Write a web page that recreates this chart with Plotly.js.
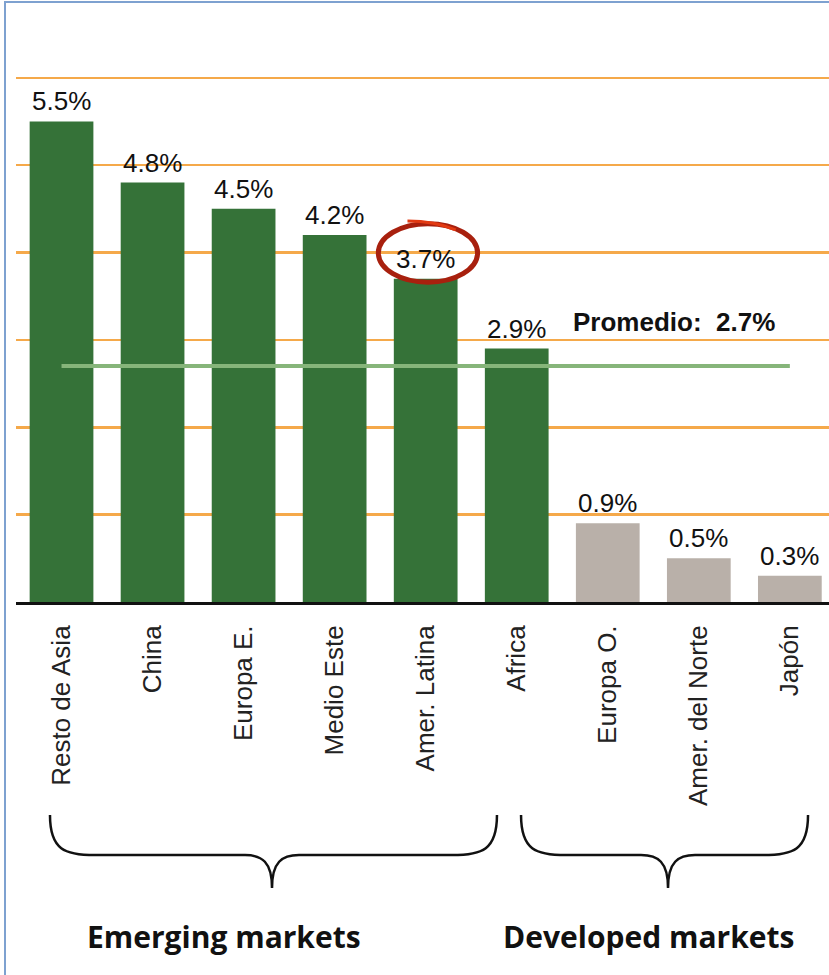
<!DOCTYPE html>
<html>
<head>
<meta charset="utf-8">
<script src="https://cdn.plot.ly/plotly-3.0.1.min.js"></script>
<style>
  html, body { margin: 0; padding: 0; background: #fff; }
  #chart { width: 829px; height: 975px; }
</style>
</head>
<body>
<div id="chart"></div>
<script>
// data
let regions = ["Resto de Asia", "China", "Europa E.", "Medio Este", "Amer. Latina",
               "Africa", "Europa O.", "Amer. del Norte", "Japón"];
let growth = [5.5, 4.8, 4.5, 4.2, 3.7, 2.9, 0.9, 0.5, 0.3];
let emerging = [true, true, true, true, true, true, false, false, false];
let average = 2.7;
let groupNames = ["Emerging markets", "Developed markets"];

let green = "#357238";
let grey = "#b9b0a9";

// pixel -> paper helpers (plot area: x 16..829, y 76..602)
let L = 16, W = 813, B = 602, H = 526;
function px(x) { return (x - L) / W; }
function py(y) { return (B - y) / H; }
function P(x, y) { return px(x).toFixed(4) + "," + py(y).toFixed(4); }

function brace(x0, x1, xm, top, hy, tip) {
    return "M" + P(x0, top) +
        " C" + P(x0, hy - 5) + " " + P(x0 + 15, hy) + " " + P(x0 + 45, hy) +
        " L" + P(xm - 27, hy) +
        " C" + P(xm - 10, hy) + " " + P(xm, hy + 7) + " " + P(xm, tip) +
        " C" + P(xm, hy + 7) + " " + P(xm + 10, hy) + " " + P(xm + 27, hy) +
        " L" + P(x1 - 45, hy) +
        " C" + P(x1 - 15, hy) + " " + P(x1, hy - 5) + " " + P(x1, top);
}

let bars = {
    x: regions,
    y: growth,
    type: "bar",
    width: 0.7,
    marker: {color: emerging.map(e => e ? green : grey)},
    hoverinfo: "skip"
};

let avgLine = {
    x: [regions[0], regions[regions.length - 1]],
    y: [average, average],
    mode: "lines",
    type: "scatter",
    line: {color: "#86b57a", width: 4},
    hoverinfo: "skip"
};

let valueLabels = regions.map((r, i) => ({
    x: r,
    y: growth[i],
    text: growth[i].toFixed(1) + "%",
    showarrow: false,
    yanchor: "bottom",
    yshift: 3,
    font: {family: "Liberation Sans, Arial, sans-serif", size: 26, color: "#111"}
}));

let otherLabels = [
    {
        x: 6.73, y: 3.21, xref: "x", yref: "y",
        text: "<b>Promedio:&nbsp;&nbsp;" + average.toFixed(1) + "%</b>",
        showarrow: false,
        font: {family: "Liberation Sans, Arial, sans-serif", size: 26, color: "#111"}
    },
    {
        x: px(224), y: py(937), xref: "paper", yref: "paper",
        xanchor: "center", yanchor: "middle",
        text: "<b>" + groupNames[0] + "</b>",
        showarrow: false,
        font: {family: "Open Sans, sans-serif", size: 30, color: "#111"}
    },
    {
        x: px(648), y: py(937), xref: "paper", yref: "paper",
        xanchor: "center", yanchor: "middle",
        text: "<b>" + groupNames[1] + "</b>",
        showarrow: false,
        font: {family: "Open Sans, sans-serif", size: 30, color: "#111"}
    }
];

let shapes = [
    // blue frame
    {type: "rect", xref: "paper", yref: "paper", x0: px(5), x1: px(900), y0: py(2), y1: py(1100),
     line: {color: "#7ea1d0", width: 2}, layer: "below"},
    // red circle round Amer. Latina
    {type: "circle", xref: "x", yref: "y", x0: 3.48, x1: 4.57, y0: 3.66, y1: 4.33,
     line: {color: "#a8200e", width: 5}},
    {type: "path", xref: "x", yref: "y", path: "M 3.80,4.36 Q 4.10,4.36 4.33,4.26",
     line: {color: "#e23a12", width: 3}},
    // braces
    {type: "path", xref: "paper", yref: "paper", path: brace(50, 497, 272, 815, 855, 888),
     line: {color: "#111", width: 2.5}},
    {type: "path", xref: "paper", yref: "paper", path: brace(521, 808, 668, 815, 855, 888),
     line: {color: "#111", width: 2.5}}
];

let layout = {
    width: 829,
    height: 975,
    margin: {l: 16, r: 0, t: 76, b: 373},
    paper_bgcolor: "#fff",
    plot_bgcolor: "#fff",
    showlegend: false,
    bargap: 0.3,
    xaxis: {
        range: [-0.5, 8.43],
        tickangle: -90,
        ticks: "",
        ticklabelstandoff: 10,
        showline: true,
        linecolor: "#111",
        linewidth: 3,
        showgrid: false,
        tickfont: {family: "Liberation Sans, Arial, sans-serif", size: 26, color: "#222"}
    },
    yaxis: {
        range: [0, 6.02],
        dtick: 1,
        showticklabels: false,
        zeroline: false,
        gridcolor: "#f5a94a",
        gridwidth: 2.5
    },
    annotations: valueLabels.concat(otherLabels),
    shapes: shapes
};

Plotly.newPlot("chart", [bars, avgLine], layout, {displayModeBar: false, staticPlot: true});
</script>
</body>
</html>
